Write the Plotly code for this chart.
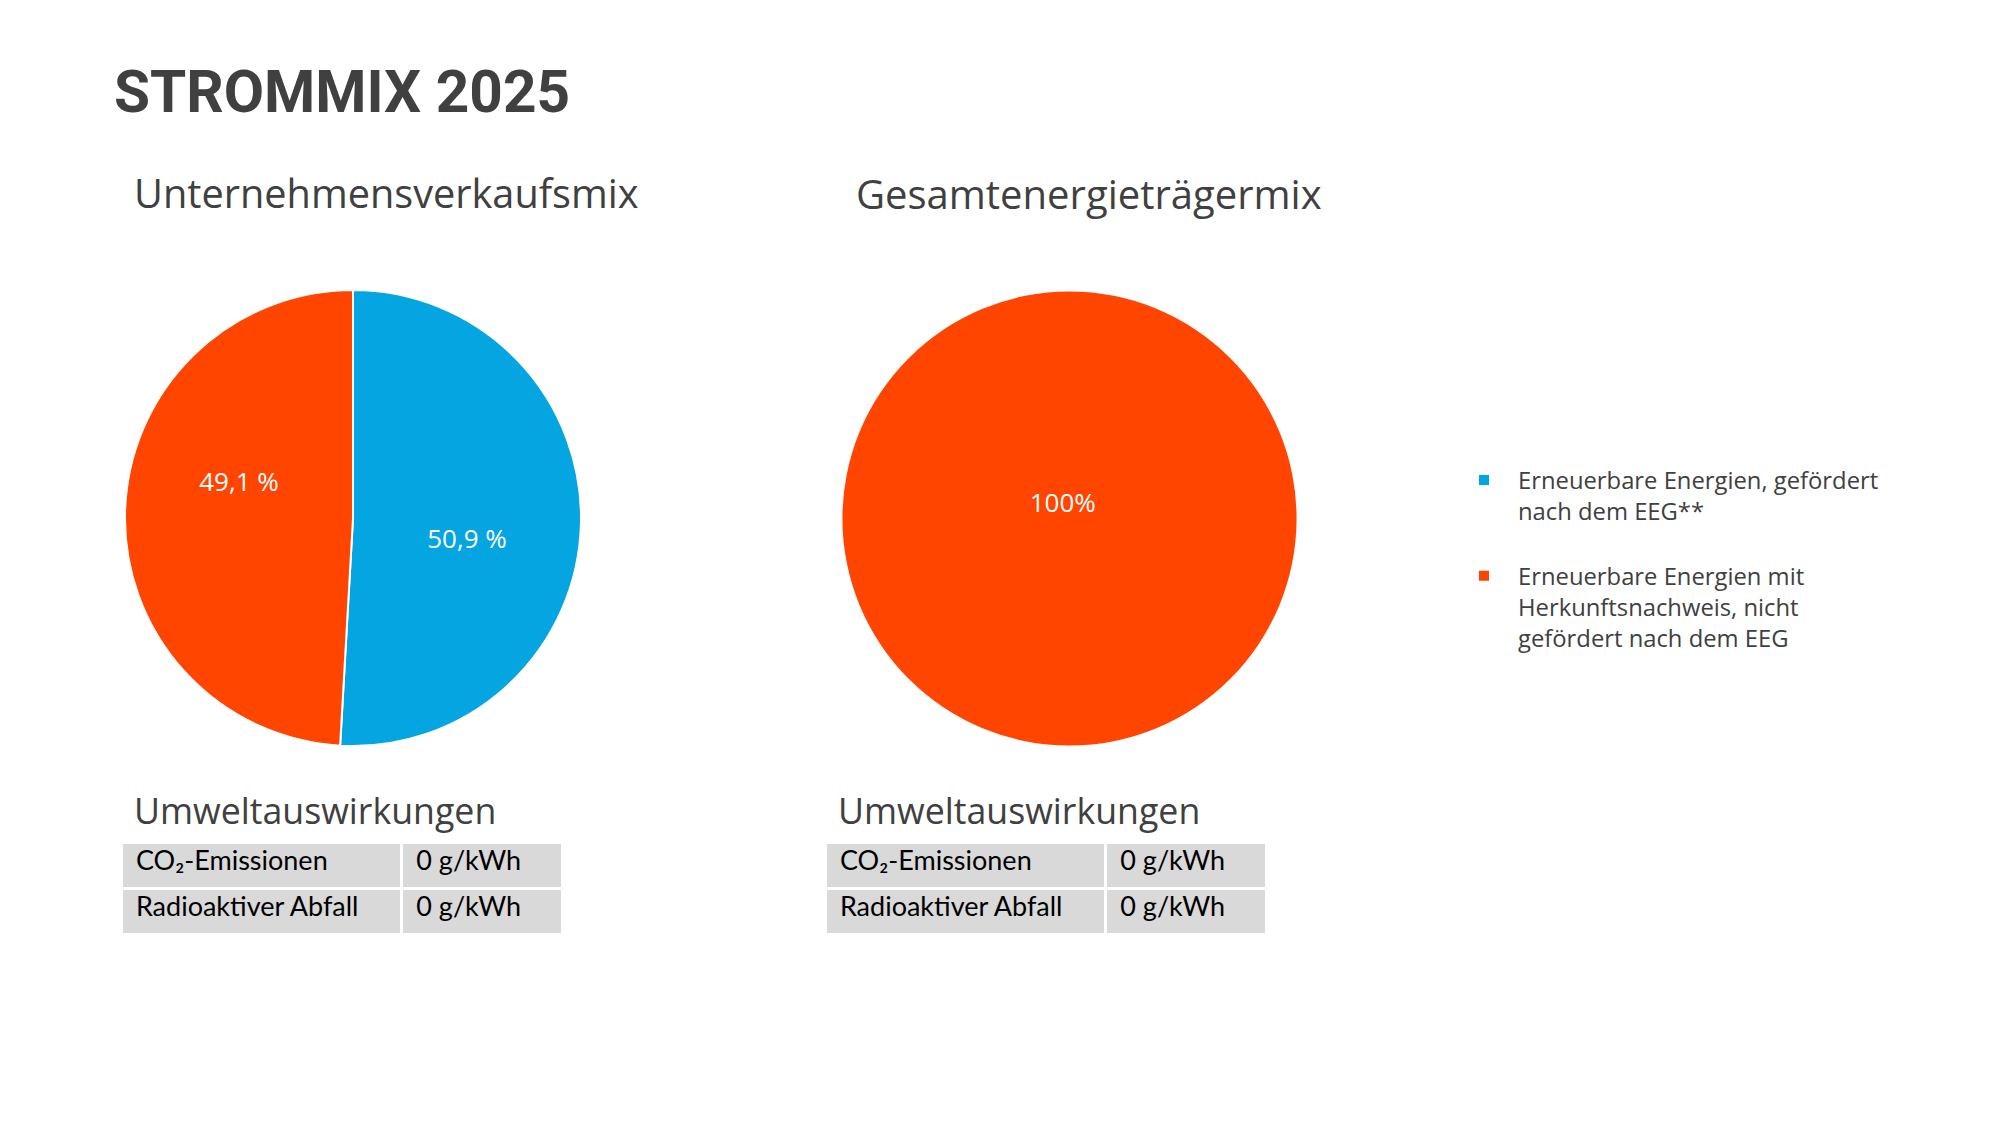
import plotly.graph_objects as go

W, H = 2000, 1125

# ---- data ----
title_text = "STROMMIX 2025"
subtitles = ["Unternehmensverkaufsmix", "Gesamtenergieträgermix"]
labels = [
    "Erneuerbare Energien, gefördert<br>nach dem EEG**<br> ",
    "Erneuerbare Energien mit<br>Herkunftsnachweis, nicht<br>gefördert nach dem EEG",
]
values_company = [50.9, 49.1]
values_total = [100]
colors = ["#04A5E0", "#FF4500"]
impact_title = "Umweltauswirkungen"
impact_names = ["CO\u2082-Emissionen", "Radioaktiver Abfall"]
impact_values_company = ["0 g/kWh", "0 g/kWh"]
impact_values_total = ["0 g/kWh", "0 g/kWh"]

TXT = "#404040"
REG = "Open Sans, Noto Sans, sans-serif"
BOLD = "Roboto, sans-serif"
TAB = "Lato, Noto Sans, sans-serif"


def px(x):
    return x / W


def py(y):
    return 1 - y / H


fig = go.Figure()

# left pie (label templates carry blank lines so the labels sit like the original)
fig.add_trace(go.Pie(
    labels=labels, values=values_company, sort=False, direction="clockwise",
    rotation=0,
    marker=dict(colors=colors, line=dict(color="white", width=2)),
    texttemplate=[" <br>%{value:.1f} %", "%{value:.1f} %<br> <br> "],
    textposition="inside",
    insidetextorientation="horizontal",
    textfont=dict(family=REG, size=26, color="white"),
    domain=dict(x=[px(125), px(581)], y=[py(746), py(290)]),
    hoverinfo="label+percent", showlegend=True,
))

# right pie
fig.add_trace(go.Pie(
    labels=[labels[1]], values=values_total, sort=False, direction="clockwise",
    marker=dict(colors=[colors[1]], line=dict(color="white", width=0)),
    texttemplate="%{value:.0f}%\u00a0\u00a0<br> ", textposition="inside",
    insidetextorientation="horizontal",
    textfont=dict(family=REG, size=26, color="white"),
    domain=dict(x=[px(842.5), px(1296.5)], y=[py(745.5), py(291.5)]),
    hoverinfo="label+percent", showlegend=False,
))

# tables
nb = "\u00a0"


def add_table(x0, x1, names, vals):
    fig.add_trace(go.Table(
        domain=dict(x=[px(x0), px(x1)], y=[py(937), py(842)]),
        columnwidth=[281, 161],
        header=dict(values=["", ""], height=0,
                    fill_color="rgba(0,0,0,0)", line=dict(width=0)),
        cells=dict(
            values=[[nb + n for n in names], [nb + v for v in vals]],
            fill_color="#D9D9D9", line=dict(color="white", width=3),
            align="left", height=46,
            font=dict(family=TAB, size=27, color="black"),
        ),
    ))


add_table(121, 563, impact_names, impact_values_company)
add_table(825, 1267, impact_names, impact_values_total)

annotations = [
    dict(text="<b>" + title_text + "</b>", x=px(112), y=py(92), xanchor="left", yanchor="middle",
         font=dict(family=BOLD, size=58.5, color=TXT)),
    dict(text=subtitles[0], x=px(132), y=py(193), xanchor="left", yanchor="middle",
         font=dict(family=REG, size=39.7, color=TXT)),
    dict(text=subtitles[1], x=px(854), y=py(193), xanchor="left", yanchor="middle",
         font=dict(family=REG, size=40, color=TXT)),
    dict(text=impact_title, x=px(132), y=py(810), xanchor="left", yanchor="middle",
         font=dict(family=REG, size=35.7, color=TXT)),
    dict(text=impact_title, x=px(836), y=py(810), xanchor="left", yanchor="middle",
         font=dict(family=REG, size=35.7, color=TXT)),
]
for a in annotations:
    a.update(xref="paper", yref="paper", showarrow=False)

fig.update_layout(
    width=W, height=H, margin=dict(l=0, r=0, t=0, b=0),
    paper_bgcolor="white", plot_bgcolor="white",
    separators=",.",
    annotations=annotations,
    legend=dict(
        x=px(1450), y=py(458), xanchor="left", yanchor="top",
        valign="top", itemwidth=58,
        font=dict(family=REG, size=23.8, color=TXT),
        bgcolor="rgba(0,0,0,0)",
    ),
)

fig.write_html("out.html")
